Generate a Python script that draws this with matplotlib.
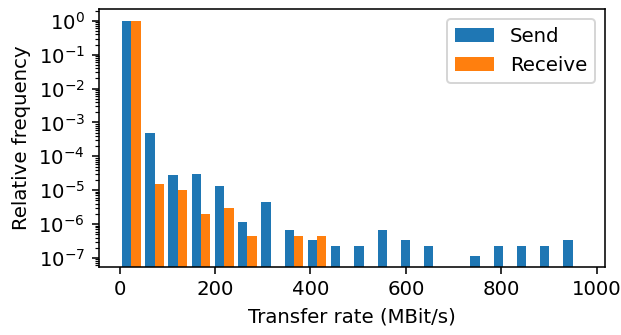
import numpy as np
import matplotlib
matplotlib.use("Agg")
import matplotlib.pyplot as plt
from matplotlib.ticker import LogLocator, NullFormatter

# histogram of transfer rates, 20 bins from 0 to max rate
max_rate = 974.0
n_bins = 20
send_freq = [0.98, 4.9e-4, 2.8e-5, 3.0e-5, 1.35e-5, 1.15e-6, 4.5e-6, 6.7e-7, 3.4e-7, 2.3e-7,
             2.3e-7, 6.7e-7, 3.4e-7, 2.3e-7, 0, 1.15e-7, 2.3e-7, 2.3e-7, 2.3e-7, 3.4e-7]
recv_freq = [0.98, 1.5e-5, 1.0e-5, 2.0e-6, 3.0e-6, 4.5e-7, 0, 4.5e-7, 4.5e-7, 0,
             0, 0, 0, 0, 0, 0, 0, 0, 0, 0]

edges = np.linspace(0, max_rate, n_bins + 1)
centers = (edges[:-1] + edges[1:]) / 2

dpi = 142
fig = plt.figure(figsize=(621 / dpi, 335 / dpi), dpi=dpi)
ax = fig.add_axes([0.1594, 0.2039, 0.8148, 0.7683])
ax.hist([centers, centers], bins=edges, weights=[send_freq, recv_freq],
        label=["Send", "Receive"], color=["#1f77b4", "#ff7f0e"])
ax.set_yscale("log")
ax.set_ylim(5.5e-8, 2.2)
ax.yaxis.set_major_locator(LogLocator(base=10, numticks=20))
ax.yaxis.set_minor_locator(LogLocator(base=10, subs=np.arange(2, 10), numticks=20))
ax.yaxis.set_minor_formatter(NullFormatter())
ax.set_xlabel("Transfer rate (MBit/s)")
ax.set_ylabel("Relative frequency")
ax.legend(loc="upper right")
fig.savefig("out.png", dpi=dpi)
